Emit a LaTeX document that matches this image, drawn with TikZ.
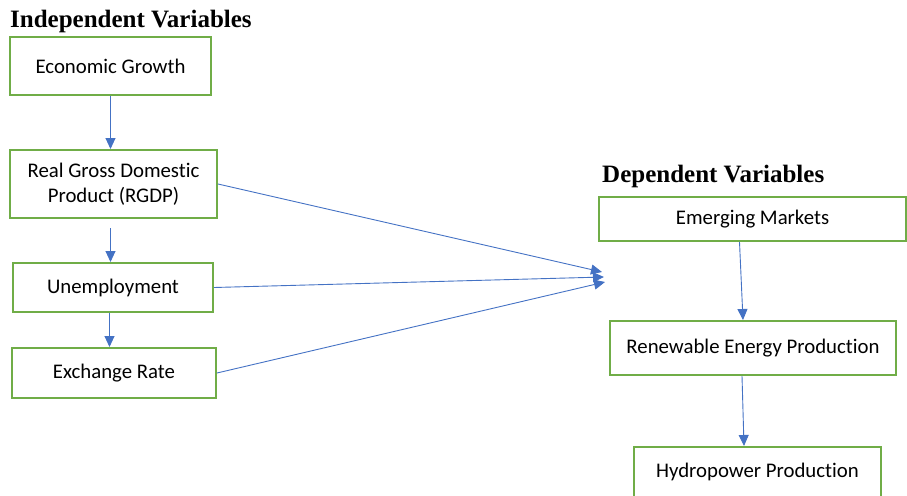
\documentclass[tikz,border=0pt]{standalone}
\usepackage{fontspec}
\setmainfont{Carlito}[Ligatures=NoCommon]
\newfontfamily\headfont{Liberation Serif}
\usetikzlibrary{arrows.meta}

\definecolor{boxgreen}{RGB}{112,173,71}
\definecolor{linkblue}{RGB}{68,114,196}

\begin{document}
\begin{tikzpicture}[
		x=1pt,y=-1pt,
		>={Triangle[length=11pt,width=10pt]},
		var/.style={draw=boxgreen,line width=2pt,rectangle,inner sep=0pt,align=center,font=\fontsize{20.8}{25}\selectfont},
		head/.style={anchor=base west,inner sep=0pt,font=\headfont\bfseries\fontsize{25}{29}\selectfont},
		link/.style={->,draw=linkblue,line width=0.9pt}
	]
		\useasboundingbox (0,0) rectangle (907,495);

		% independent side
		\node [head] (indep) at (10,28) {Independent Variables};
		\node [var,minimum width=201pt,minimum height=58pt] (growth) at (110.5,66) {Economic Growth};
		\node [var,minimum width=207pt,minimum height=68pt] (rgdp) at (113.5,184) {Real Gross Domestic\\Product (RGDP)};
		\node [var,minimum width=200pt,minimum height=49pt] (unemp) at (113,287.5) {Unemployment};
		\node [var,minimum width=204pt,minimum height=50pt] (exrate) at (114,373) {Exchange Rate};

		% dependent side
		\node [head] (dep) at (602,182) {Dependent Variables};
		\node [var,minimum width=307pt,minimum height=44pt] (markets) at (752.5,219) {Emerging Markets};
		\node [var,minimum width=286pt,minimum height=54pt] (renew) at (753,348) {Renewable Energy Production};
		\node [var,minimum width=247pt,minimum height=50pt] (hydro) at (757.5,472) {Hydropower Production};

		% meeting points of the three links
		\coordinate (in1) at (602,272);
		\coordinate (in2) at (604,277);
		\coordinate (in3) at (605,282);

		\draw [link] (growth.south) -- (growth.south |- rgdp.north);
		\draw [link,shorten <=9pt] (rgdp.south -| growth.south) -- (unemp.north -| growth.south);
		\draw [link] ([xshift=-1pt]unemp.south -| growth.south) -- ([xshift=-1pt]exrate.north -| growth.south);

		\draw [link] (rgdp.east) -- (in1);
		\draw [link] (unemp.east) -- (in2);
		\draw [link] (exrate.east) -- (in3);

		\draw [link] ([xshift=-13pt]markets.south) -- ([xshift=-10pt]renew.north);
		\draw [link] ([xshift=-11pt]renew.south) -- ([xshift=-13.5pt]hydro.north);
	\end{tikzpicture}
\end{document}
